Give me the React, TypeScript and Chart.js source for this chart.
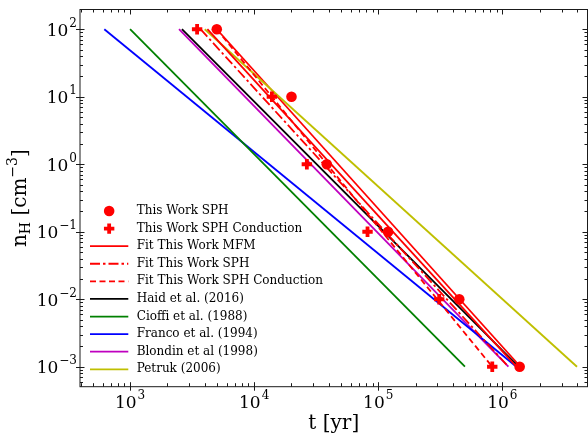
import React, { useEffect, useRef } from 'react';
import { Chart, registerables } from 'chart.js';

Chart.register(...registerables);

// Hydrogen density levels (cm^-3) at which the simulated shell-formation times were measured
const DENSITY_LEVELS = [100, 10, 1, 0.1, 0.01, 0.001];
const SPH_TIMES = [5000, 20000, 38500, 120000, 450000, 1380000];
const SPH_COND_TIMES = [3470, 13900, 26600, 82000, 310000, 830000];

// Power-law relations, given by their end points at n = 100 and n = 0.001
const FIT_DENSITIES = [100, 0.001];
const MFM_FIT_TIMES = [4200, 1.3e6];
const MFM_FIT_ALT_TIMES = [5000, 1.4e6];
const SPH_FIT_TIMES = [3700, 1.12e6];
const SPH_COND_FIT_TIMES = [5000, 8.3e5];
const HAID_TIMES = [2620, 1.35e6];
const CIOFFI_TIMES = [1000, 5e5];
const FRANCO_TIMES = [620, 1.3e6];
const BLONDIN_TIMES = [2480, 1.12e6];
const PETRUK_TIMES = [4000, 4e6];

// Axis limits and decade ticks
const X_MIN = 395;
const X_MAX = 4.86e6;
const Y_MIN = 5.06e-4;
const Y_MAX = 196;
const X_DECADES = [3, 4, 5, 6];
const Y_DECADES = [2, 1, 0, -1, -2, -3];

const SERIF = '"DejaVu Serif", "Liberation Serif", serif';
const RED = '#ff0000';

const pairs = (times: number[], dens: number[]) => times.map((t, i) => ({ x: t, y: dens[i] }));

function drawPower(
  ctx: CanvasRenderingContext2D,
  exp: number,
  x: number,
  y: number,
  align: 'right' | 'center',
) {
  const base = '10';
  const sup = exp < 0 ? '\u2212' + Math.abs(exp) : String(exp);
  const baseSize = 17;
  const supSize = 12;
  ctx.font = `${baseSize}px ${SERIF}`;
  const wb = ctx.measureText(base).width;
  ctx.font = `${supSize}px ${SERIF}`;
  const ws = ctx.measureText(sup).width;
  const total = wb + ws + 1;
  const left = align === 'right' ? x - total : x - total / 2;
  ctx.textAlign = 'left';
  ctx.textBaseline = 'alphabetic';
  ctx.font = `${baseSize}px ${SERIF}`;
  ctx.fillText(base, left, y);
  ctx.font = `${supSize}px ${SERIF}`;
  ctx.fillText(sup, left + wb + 1, y - 9);
}

const frameAndLabels = {
  id: 'frameAndLabels',
  afterDraw(chart: any) {
    const ctx: CanvasRenderingContext2D = chart.ctx;
    const { left, right, top, bottom } = chart.chartArea;
    const xs = chart.scales.x;
    const ys = chart.scales.y;
    ctx.save();
    ctx.strokeStyle = '#1a1a1a';
    ctx.fillStyle = '#000';
    ctx.lineWidth = 1;

    // spines
    ctx.strokeRect(left, top, right - left, bottom - top);

    // x ticks (bottom: majors cross the spine, top: inward)
    for (let d = 2; d <= 6; d++) {
      for (let m = 1; m <= 9; m++) {
        const v = m * Math.pow(10, d);
        if (v < X_MIN || v > X_MAX) continue;
        const px = Math.round(xs.getPixelForValue(v)) + 0.5;
        const major = m === 1;
        ctx.beginPath();
        if (major) {
          ctx.moveTo(px, bottom + 4);
          ctx.lineTo(px, bottom - 4.5);
          ctx.moveTo(px, top);
          ctx.lineTo(px, top + 5);
        } else {
          ctx.moveTo(px, bottom);
          ctx.lineTo(px, bottom - 3.5);
          ctx.moveTo(px, top);
          ctx.lineTo(px, top + 3);
        }
        ctx.stroke();
      }
    }
    // y ticks (left: majors cross the spine, right: inward)
    for (let d = -4; d <= 2; d++) {
      for (let m = 1; m <= 9; m++) {
        const v = m * Math.pow(10, d);
        if (v < Y_MIN || v > Y_MAX) continue;
        const py = Math.round(ys.getPixelForValue(v)) + 0.5;
        const major = m === 1;
        ctx.beginPath();
        if (major) {
          ctx.moveTo(left - 4, py);
          ctx.lineTo(left + 4.5, py);
          ctx.moveTo(right, py);
          ctx.lineTo(right - 5, py);
        } else {
          ctx.moveTo(left, py);
          ctx.lineTo(left + 3, py);
          ctx.moveTo(right, py);
          ctx.lineTo(right - 3, py);
        }
        ctx.stroke();
      }
    }

    // tick labels
    for (const d of X_DECADES) {
      drawPower(ctx, d, xs.getPixelForValue(Math.pow(10, d)), bottom + 21.5, 'center');
    }
    for (const d of Y_DECADES) {
      drawPower(ctx, d, left - 3, ys.getPixelForValue(Math.pow(10, d)) + 6.5, 'right');
    }

    // x axis title
    ctx.font = `20px ${SERIF}`;
    ctx.textAlign = 'center';
    ctx.textBaseline = 'alphabetic';
    ctx.fillText('t [yr]', (left + right) / 2, 429);

    // y axis title: n_H [cm^-3]
    const parts: { t: string; size: number; dy: number }[] = [
      { t: 'n', size: 20, dy: 0 },
      { t: 'H', size: 14, dy: 4 },
      { t: ' [cm', size: 20, dy: 0 },
      { t: '\u22123', size: 14, dy: -8.5 },
      { t: ']', size: 20, dy: 0 },
    ];
    let width = 0;
    for (const p of parts) {
      ctx.font = `${p.size}px ${SERIF}`;
      width += ctx.measureText(p.t).width;
    }
    ctx.translate(25.5, (top + bottom) / 2);
    ctx.rotate(-Math.PI / 2);
    let cx = -width / 2;
    ctx.textAlign = 'left';
    for (const p of parts) {
      ctx.font = `${p.size}px ${SERIF}`;
      ctx.fillText(p.t, cx, p.dy);
      cx += ctx.measureText(p.t).width;
    }
    ctx.restore();

    // legend
    ctx.save();
    const rowY0 = 211;
    const rowStep = 17.59;
    const hx0 = 90;
    const hx1 = 128.3;
    const textX = 136.7;
    const entries = chart.data.datasets.filter((ds: any) => !ds.noLegend);
    entries.forEach((ds: any, i: number) => {
      const y = rowY0 + i * rowStep;
      if (ds.showLine === false) {
        const mx = (hx0 + hx1) / 2;
        ctx.fillStyle = ds.backgroundColor;
        ctx.strokeStyle = ds.borderColor;
        if (ds.pointStyle === 'circle') {
          ctx.beginPath();
          ctx.arc(mx, y, ds.pointRadius, 0, Math.PI * 2);
          ctx.fill();
        } else {
          ctx.lineWidth = ds.pointBorderWidth;
          ctx.beginPath();
          ctx.moveTo(mx - ds.pointRadius, y);
          ctx.lineTo(mx + ds.pointRadius, y);
          ctx.moveTo(mx, y - ds.pointRadius);
          ctx.lineTo(mx, y + ds.pointRadius);
          ctx.stroke();
        }
      } else {
        ctx.strokeStyle = ds.borderColor;
        ctx.lineWidth = ds.borderWidth;
        ctx.setLineDash(ds.borderDash || []);
        ctx.beginPath();
        ctx.moveTo(hx0, y);
        ctx.lineTo(hx1, y);
        ctx.stroke();
        ctx.setLineDash([]);
      }
      ctx.fillStyle = '#000';
      ctx.font = `12px ${SERIF}`;
      ctx.textAlign = 'left';
      ctx.textBaseline = 'middle';
      ctx.fillText(ds.label, textX, y);
    });
    ctx.restore();
  },
};

function lineSet(label: string, times: number[], color: string, dash: number[] = [], noLegend = false) {
  return {
    label,
    data: pairs(times, FIT_DENSITIES),
    borderColor: color,
    backgroundColor: color,
    borderWidth: 1.8,
    borderDash: dash,
    pointRadius: 0,
    showLine: true,
    tension: 0,
    order: 2,
    noLegend,
  };
}

export default function App() {
  const canvasRef = useRef<HTMLCanvasElement | null>(null);

  useEffect(() => {
    const canvas = canvasRef.current;
    if (!canvas) return;
    const chart = new Chart(canvas, {
      type: 'scatter',
      data: {
        datasets: [
          {
            label: 'This Work SPH',
            data: pairs(SPH_TIMES, DENSITY_LEVELS),
            showLine: false,
            pointStyle: 'circle',
            pointRadius: 5.3,
            pointBorderWidth: 0,
            borderColor: RED,
            backgroundColor: RED,
            order: 0,
          },
          {
            label: 'This Work SPH Conduction',
            data: pairs(SPH_COND_TIMES, DENSITY_LEVELS),
            showLine: false,
            pointStyle: 'cross',
            pointRadius: 5.2,
            pointBorderWidth: 3.8,
            borderColor: RED,
            backgroundColor: RED,
            order: 0,
          },
          lineSet('Fit This Work MFM', MFM_FIT_TIMES, RED),
          lineSet('Fit This Work SPH', SPH_FIT_TIMES, RED, [10, 3, 2.5, 3]),
          lineSet('Fit This Work SPH Conduction', SPH_COND_FIT_TIMES, RED, [6, 3.5]),
          lineSet('Haid et al. (2016)', HAID_TIMES, '#000000'),
          lineSet('Cioffi et al. (1988)', CIOFFI_TIMES, '#008000'),
          lineSet('Franco et al. (1994)', FRANCO_TIMES, '#0000ff'),
          lineSet('Blondin et al (1998)', BLONDIN_TIMES, '#bf00bf'),
          lineSet('Petruk (2006)', PETRUK_TIMES, '#bfbf00'),
          lineSet('Fit This Work MFM', MFM_FIT_ALT_TIMES, RED, [], true),
        ] as any,
      },
      options: {
        animation: false,
        responsive: false,
        devicePixelRatio: 1,
        layout: { autoPadding: false, padding: { left: 80, top: 9.5, right: 0.5, bottom: 48.3 } },
        scales: {
          x: { type: 'logarithmic', min: X_MIN, max: X_MAX, display: false },
          y: { type: 'logarithmic', min: Y_MIN, max: Y_MAX, display: false },
        },
        plugins: {
          legend: { display: false },
          tooltip: { enabled: false },
        },
        elements: { line: { borderCapStyle: 'butt' } },
      },
      plugins: [frameAndLabels],
    });
    return () => chart.destroy();
  }, []);

  return (
    <div style={{ position: 'fixed', left: 0, top: 0, width: 588, height: 435, background: '#fff' }}>
      <canvas ref={canvasRef} width={588} height={435} />
    </div>
  );
}
